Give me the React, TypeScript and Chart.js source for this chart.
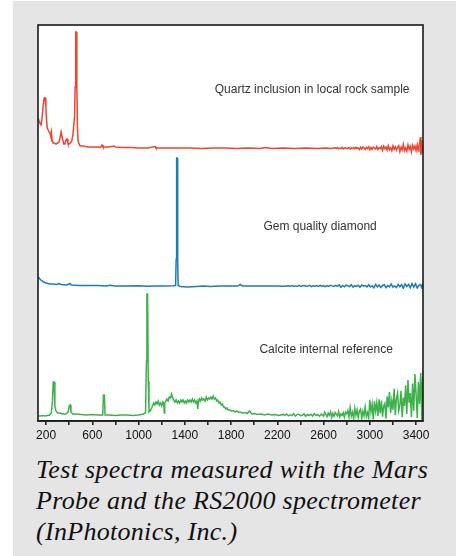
import React, { useEffect, useRef } from "react";
import { Chart, registerables } from "chart.js";

Chart.register(...registerables);

// Raman shift (cm-1), intensity (arbitrary units, each spectrum on its own stacked axis)
const quartzSpectrum: [number, number][] = [
  [131, 39], [140, 36], [150, 33], [157, 32], [166, 40], [175, 52], [183, 59], [191, 59], [198, 50],
  [204, 37], [210, 29], [218, 27], [226, 25], [234, 24], [240, 21], [246, 25], [252, 17], [260, 14],
  [272, 14], [285, 13], [300, 14], [312, 15], [322, 20], [330, 25], [337, 25], [344, 17], [352, 13],
  [362, 13], [372, 17], [381, 18], [389, 14], [398, 13], [410, 14], [422, 16], [432, 22], [440, 33],
  [446, 40], [451, 70], [456, 125], [461, 125], [466, 70], [471, 30], [477, 16], [485, 13], [495, 11],
  [520, 11], [560, 10], [600, 10], [650, 10], [670, 9.5], [684, 12], [692, 10], [740, 10], [788, 11],
  [800, 10], [860, 9.5], [940, 9.5], [1000, 9], [1080, 9], [1143, 10.5], [1150, 9], [1250, 9],
  [1350, 9], [1450, 9], [1550, 8.5], [1650, 9], [1750, 9], [1850, 8.5], [1950, 9], [2050, 8.5],
  [2100, 9.5], [2150, 8.5], [2250, 9], [2350, 8.5], [2450, 9], [2550, 8.5], [2620, 9], [2660, 8.4],
  [2700, 9.2], [2710, 8.6], [2720, 9.4], [2730, 8.3], [2740, 8.9], [2750, 8.4], [2760, 9.6], [2770, 8.1],
  [2780, 9.0], [2790, 9.3], [2800, 8.4], [2810, 8.7], [2820, 9.5], [2830, 8.0], [2840, 9.1], [2850, 8.5],
  [2860, 9.3], [2870, 8.2], [2880, 9.6], [2890, 8.6], [2900, 9.1], [2910, 7.5], [2920, 9.8], [2930, 7.9],
  [2940, 10.1], [2950, 8.9], [2960, 7.6], [2970, 9.6], [2980, 8.4], [2990, 10.2], [3000, 7.3], [3010, 9.5],
  [3020, 7.8], [3030, 9.9], [3040, 9.0], [3050, 8.0], [3060, 10.5], [3070, 7.5], [3080, 9.1], [3090, 8.3],
  [3100, 10.4], [3110, 6.5], [3120, 10.8], [3130, 8.4], [3140, 9.9], [3150, 7.0], [3160, 11.3], [3170, 7.4],
  [3180, 9.2], [3190, 6.3], [3200, 11.0], [3210, 7.7], [3220, 10.2], [3230, 6.8], [3240, 9.7], [3250, 11.3],
  [3260, 5.6], [3270, 9.8], [3280, 7.1], [3290, 12.6], [3300, 6.5], [3310, 9.1], [3320, 5.8], [3330, 12.1],
  [3340, 7.8], [3350, 10.6], [3360, 5.1], [3370, 11.6], [3380, 8.1], [3390, 11.1], [3400, 6.3], [3410, 12.3],
  [3420, 6.0], [3425, 10], [3432, 15], [3438, 20], [3442, 2], [3448, 17], [3454, 4], [3460, 12],
];

const diamondSpectrum: [number, number][] = [
  [131, 12], [140, 11], [150, 9.5], [165, 8], [180, 7], [200, 6], [230, 5], [260, 5], [290, 4.5],
  [310, 5.5], [330, 4.5], [380, 4], [407, 5.5], [420, 4], [480, 3.5], [560, 3.5], [640, 3.5], [720, 3],
  [754, 3.8], [800, 3], [900, 3], [1000, 3.2], [1080, 2.8], [1150, 3], [1220, 3], [1300, 3.2],
  [1320, 3.5], [1325, 30], [1329, 131], [1334, 131], [1338, 30], [1342, 3.5], [1360, 2.5], [1420, 2],
  [1500, 2.5], [1560, 3], [1620, 2.5], [1700, 3], [1800, 3], [1860, 3], [1878, 4.5], [1900, 3],
  [2000, 3], [2100, 3], [2200, 3], [2250, 2.8], [2300, 3.3], [2315, 2.8], [2330, 3.5], [2345, 2.6],
  [2360, 3.1], [2375, 2.7], [2390, 3.7], [2405, 2.5], [2420, 3.2], [2435, 3.5], [2450, 2.7], [2465, 2.9],
  [2480, 3.6], [2495, 2.4], [2510, 3.3], [2525, 2.8], [2540, 3.4], [2555, 2.5], [2570, 3.7], [2585, 2.9],
  [2600, 3.2], [2615, 2.4], [2630, 3.5], [2645, 2.6], [2660, 3.6], [2675, 3.1], [2690, 2.5], [2705, 3.6],
  [2720, 2.6], [2735, 4.2], [2750, 1.7], [2765, 3.5], [2780, 2.2], [2795, 3.9], [2810, 3.2], [2825, 2.4],
  [2840, 4.4], [2855, 1.9], [2870, 3.3], [2885, 2.6], [2900, 3.8], [2915, 1.8], [2930, 4.0], [2945, 2.8],
  [2960, 3.5], [2975, 2.1], [2990, 4.3], [3005, 2.0], [3020, 3.3], [3035, 1.2], [3050, 4.6], [3065, 2.2],
  [3080, 4.0], [3095, 1.6], [3110, 3.7], [3125, 4.3], [3140, 1.3], [3155, 3.5], [3170, 2.1], [3185, 5.0],
  [3200, 1.8], [3215, 3.1], [3230, 1.4], [3245, 4.7], [3260, 2.3], [3275, 4.3], [3290, 0.6], [3305, 5.0],
  [3320, 2.5], [3335, 4.6], [3350, 1.2], [3365, 5.5], [3380, 1.9], [3395, 5.2], [3410, 1.0], [3425, 3.7],
  [3440, 4.4], [3450, 0.8], [3460, 5.2],
];

const calciteSpectrum: [number, number][] = [
  [131, 5], [150, 5], [170, 5.5], [190, 5], [210, 5.5], [230, 6], [245, 8], [255, 20], [262, 39],
  [270, 39], [276, 15], [285, 10], [300, 8], [320, 8], [345, 7], [370, 7], [390, 9], [400, 15],
  [408, 16], [415, 9], [430, 7], [460, 7], [500, 6.5], [550, 6], [600, 6.5], [650, 6], [690, 6],
  [696, 26], [704, 26], [710, 6], [740, 6], [800, 5.5], [850, 6], [900, 6], [950, 5.5], [1000, 6],
  [1040, 7], [1060, 8], [1068, 60], [1072, 127], [1078, 127], [1084, 40], [1090, 9], [1100, 10],
  [1110, 12], [1120, 15], [1130, 18], [1140, 16], [1150, 19], [1160, 17], [1170, 20], [1180, 16],
  [1190, 18], [1200, 15], [1210, 19], [1218, 17], [1222, 8], [1226, 18], [1235, 20], [1245, 22],
  [1255, 20], [1265, 24], [1275, 23], [1285, 27], [1295, 23], [1305, 21], [1315, 19], [1325, 21],
  [1335, 18], [1345, 20], [1355, 18], [1365, 21], [1375, 19], [1385, 21], [1395, 18], [1405, 20],
  [1415, 18], [1425, 21], [1435, 19], [1445, 21], [1455, 19], [1465, 22], [1475, 19], [1485, 21],
  [1495, 18], [1505, 20], [1512, 12], [1518, 19], [1525, 22], [1535, 20], [1545, 23], [1555, 21],
  [1565, 22], [1575, 20], [1585, 24], [1595, 21], [1605, 23], [1615, 22], [1625, 24], [1635, 22],
  [1645, 25], [1655, 22], [1665, 23], [1675, 20], [1685, 21], [1695, 18], [1705, 19], [1715, 16],
  [1725, 17], [1735, 14], [1745, 14], [1755, 12], [1765, 13], [1775, 11], [1790, 11], [1805, 10],
  [1820, 10.5], [1835, 9], [1850, 10], [1865, 8.5], [1880, 9], [1900, 8], [1920, 8.5], [1940, 7.5],
  [1960, 10], [1980, 7], [2000, 7.5], [2030, 6.5], [2060, 7], [2090, 6], [2120, 7], [2150, 6],
  [2180, 6.5], [2210, 5.5], [2250, 6.6], [2265, 5.6], [2280, 7.0], [2295, 5.1], [2310, 6.2], [2325, 5.4],
  [2340, 7.3], [2355, 4.9], [2370, 6.4], [2385, 6.9], [2400, 5.3], [2415, 5.8], [2430, 7.1], [2445, 4.7],
  [2460, 6.5], [2475, 5.5], [2490, 6.8], [2505, 5.0], [2520, 7.4], [2535, 5.7], [2550, 6.3], [2565, 4.8],
  [2580, 6.9], [2600, 4.9], [2610, 8.9], [2620, 6.7], [2630, 4.3], [2640, 7.9], [2650, 5.7], [2660, 9.1],
  [2670, 3.7], [2680, 7.7], [2690, 4.7], [2700, 8.5], [2710, 6.9], [2720, 5.1], [2730, 9.5], [2740, 4.1],
  [2750, 7.1], [2760, 5.5], [2770, 8.3], [2780, 3.9], [2790, 8.7], [2800, 7.2], [2810, 10.4], [2820, 4.0],
  [2830, 13.6], [2840, 4.8], [2850, 8.8], [2860, 2.4], [2870, 12.8], [2880, 5.6], [2890, 11.2], [2900, 3.6],
  [2910, 10.0], [2920, 12.0], [2930, 2.8], [2940, 9.6], [2950, 5.2], [2960, 14.0], [2970, 4.4], [2980, 8.4],
  [2990, 3.2], [3000, 21.1], [3010, 9.2], [3020, 16.9], [3030, 1.5], [3040, 19.7], [3050, 9.9], [3060, 18.3],
  [3070, 5.0], [3080, 21.8], [3090, 7.8], [3100, 20.4], [3110, 4.3], [3120, 14.8], [3130, 17.6], [3140, 2.2],
  [3150, 24.6], [3160, 13.6], [3170, 29.0], [3180, 8.1], [3190, 20.2], [3200, 11.4], [3210, 32.3], [3220, 5.9],
  [3230, 22.4], [3240, 27.9], [3250, 10.3], [3260, 15.8], [3270, 30.1], [3280, 3.7], [3290, 23.5], [3300, 15],
  [3310, 35.8], [3320, 7], [3330, 41], [3340, 18.2], [3350, 27.8], [3360, 3.8], [3370, 37.4], [3380, 10.2],
  [3390, 47], [3400, 27], [3410, 3], [3420, 39], [3430, 17], [3440, 48], [3450, 1], [3455, 37], [3460, 50],
];

const xTickValues = [200, 400, 600, 800, 1000, 1200, 1400, 1600, 1800, 2000, 2200, 2400, 2600, 2800, 3000, 3200, 3400];
const xLabelValues = [200, 600, 1000, 1400, 1800, 2200, 2600, 3000, 3400];

const spectrumNames = ["Quartz inclusion in local rock sample", "Gem quality diamond", "Calcite internal reference"];
const captionLines = ["Test spectra measured with the Mars", "Probe and the RS2000 spectrometer", "(InPhotonics, Inc.)"];

const COLORS = ["#ee4430", "#1a7db5", "#3db24b"];
const AXIS_IDS = ["yQuartz", "yDiamond", "yCalcite"];
// label anchors in data coordinates: [Raman shift, intensity on that spectrum's axis]
const LABEL_ANCHORS: [number, number][] = [[2501, 67], [2570, 62], [2622, 71]];
const SANS = "'Liberation Sans', Arial, Helvetica, sans-serif";

const framePlugin = {
  id: "frame",
  beforeDraw(chart: any) {
    const { ctx, chartArea } = chart;
    ctx.save();
    ctx.fillStyle = "#ffffff";
    ctx.fillRect(chartArea.left, chartArea.top, chartArea.right - chartArea.left, chartArea.bottom - chartArea.top);
    ctx.restore();
  },
  afterDatasetsDraw(chart: any) {
    const { ctx } = chart;
    ctx.save();
    ctx.font = `12px ${SANS}`;
    ctx.fillStyle = "#333333";
    ctx.textAlign = "center";
    ctx.textBaseline = "middle";
    spectrumNames.forEach((name, i) => {
      const x = chart.scales.x.getPixelForValue(LABEL_ANCHORS[i][0]);
      const y = chart.scales[AXIS_IDS[i]].getPixelForValue(LABEL_ANCHORS[i][1]);
      ctx.fillText(name, x, y);
    });
    ctx.restore();
  },
  afterDraw(chart: any) {
    const { ctx, chartArea } = chart;
    ctx.save();
    ctx.strokeStyle = "#1a1a1a";
    ctx.lineWidth = 1.6;
    ctx.strokeRect(chartArea.left, chartArea.top, chartArea.right - chartArea.left, chartArea.bottom - chartArea.top);
    ctx.restore();
  },
};

function hiddenStackAxis(weight: number) {
  return {
    type: "linear" as const,
    position: "left" as const,
    stack: "spectra",
    stackWeight: 1,
    weight,
    min: 0,
    max: 132,
    display: true,
    ticks: { display: false },
    grid: { display: false, drawTicks: false },
    border: { display: false },
    afterFit: (s: any) => {
      s.width = 0;
    },
  };
}

function SpectraChart() {
  const ref = useRef<HTMLCanvasElement | null>(null);
  useEffect(() => {
    if (!ref.current) return;
    const spectra = [quartzSpectrum, diamondSpectrum, calciteSpectrum];
    const chart = new Chart(ref.current, {
      type: "line",
      data: {
        datasets: spectra.map((s, i) => ({
          label: spectrumNames[i],
          data: s.map(([x, y]) => ({ x, y })),
          yAxisID: AXIS_IDS[i],
          borderColor: COLORS[i],
          borderWidth: 1.5,
          pointRadius: 0,
          tension: 0,
          fill: false,
        })),
      },
      options: {
        responsive: false,
        animation: false,
        devicePixelRatio: 1,
        layout: { padding: { left: 38, right: 33, top: 25, bottom: 0 } },
        plugins: { legend: { display: false }, tooltip: { enabled: false } },
        scales: {
          x: {
            type: "linear",
            min: 130,
            max: 3460,
            afterBuildTicks: (s: any) => {
              s.ticks = xTickValues.map((v) => ({ value: v }));
            },
            afterFit: (s: any) => {
              s.height = 29;
            },
            ticks: {
              autoSkip: false,
              maxRotation: 0,
              padding: 3,
              color: "#111111",
              font: { family: SANS, size: 12 },
              callback: (v: any) => (xLabelValues.includes(Number(v)) ? String(v) : ""),
            },
            grid: { drawOnChartArea: false, drawTicks: true, tickLength: 4, color: "#222222", lineWidth: 1.6 },
            border: { display: true, color: "#1a1a1a", width: 1.6 },
          },
          yQuartz: hiddenStackAxis(3),
          yDiamond: hiddenStackAxis(2),
          yCalcite: hiddenStackAxis(1),
        } as any,
      },
      plugins: [framePlugin],
    });
    return () => chart.destroy();
  }, []);
  return (
    <canvas
      ref={ref}
      width={456}
      height={450}
      style={{ position: "absolute", left: 0, top: 0, width: 456, height: 450 }}
    />
  );
}

export default function App() {
  return (
    <div>
      <div style={{ position: "absolute", left: 13, top: 1, width: 443, height: 555, background: "#e5e5e5" }} />
      <SpectraChart />
      <div
        style={{
          position: "absolute",
          left: 36,
          top: 454,
          fontFamily: "'Liberation Serif', 'Times New Roman', serif",
          fontStyle: "italic",
          fontSize: 26,
          letterSpacing: "0.3px",
          lineHeight: "31px",
          color: "#111111",
          whiteSpace: "nowrap",
        }}
      >
        {captionLines.map((l, i) => (
          <div key={i}>{l}</div>
        ))}
      </div>
    </div>
  );
}
